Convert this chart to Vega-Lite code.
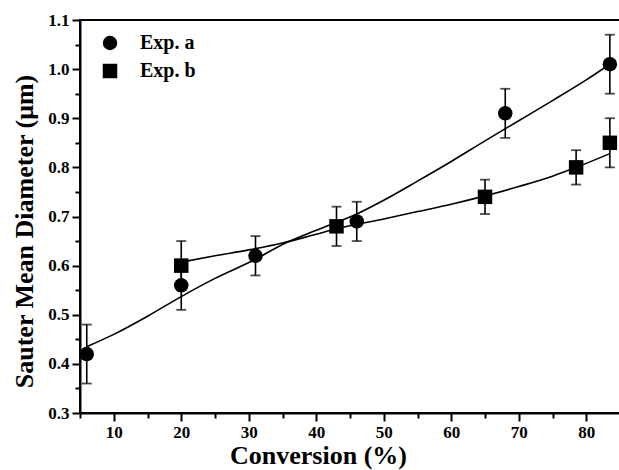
{
  "$schema": "https://vega.github.io/schema/vega-lite/v6.json",
  "autosize": "none",
  "width": 540,
  "height": 393,
  "padding": {"left": 80, "top": 20, "right": 0, "bottom": 57},
  "background": "white",
  "config": {
    "view": {"stroke": "black", "strokeWidth": 2},
    "font": "Liberation Serif",
    "axis": {
      "domainColor": "black", "domainWidth": 2, "tickColor": "black", "tickWidth": 2,
      "labelFont": "Liberation Serif", "labelFontWeight": "bold", "labelFontSize": 17, "labelColor": "black",
      "titleFont": "Liberation Serif", "titleFontWeight": "bold", "titleFontSize": 26, "titleColor": "black",
      "grid": false, "labelOverlap": false
    }
  },
  "datasets": {
    "pts": [
      {"series": "Exp. a", "conv": 6, "d": 0.42, "lo": 0.36, "hi": 0.48},
      {"series": "Exp. a", "conv": 20, "d": 0.56, "lo": 0.51, "hi": 0.61},
      {"series": "Exp. a", "conv": 31, "d": 0.62, "lo": 0.58, "hi": 0.66},
      {"series": "Exp. a", "conv": 46, "d": 0.69, "lo": 0.65, "hi": 0.73},
      {"series": "Exp. a", "conv": 68, "d": 0.91, "lo": 0.86, "hi": 0.96},
      {"series": "Exp. a", "conv": 83.5, "d": 1.01, "lo": 0.95, "hi": 1.07},
      {"series": "Exp. b", "conv": 20, "d": 0.60, "lo": 0.55, "hi": 0.65},
      {"series": "Exp. b", "conv": 43, "d": 0.68, "lo": 0.64, "hi": 0.72},
      {"series": "Exp. b", "conv": 65, "d": 0.74, "lo": 0.705, "hi": 0.775},
      {"series": "Exp. b", "conv": 78.5, "d": 0.80, "lo": 0.765, "hi": 0.835},
      {"series": "Exp. b", "conv": 83.5, "d": 0.85, "lo": 0.80, "hi": 0.90}
    ],
    "fits": [
      {"series": "Exp. a", "conv": 6, "d": 0.435},
      {"series": "Exp. a", "conv": 10, "d": 0.46},
      {"series": "Exp. a", "conv": 15, "d": 0.497},
      {"series": "Exp. a", "conv": 20, "d": 0.537},
      {"series": "Exp. a", "conv": 25, "d": 0.574},
      {"series": "Exp. a", "conv": 31, "d": 0.613},
      {"series": "Exp. a", "conv": 35, "d": 0.643},
      {"series": "Exp. a", "conv": 40, "d": 0.672},
      {"series": "Exp. a", "conv": 46, "d": 0.705},
      {"series": "Exp. a", "conv": 50, "d": 0.733},
      {"series": "Exp. a", "conv": 55, "d": 0.772},
      {"series": "Exp. a", "conv": 60, "d": 0.812},
      {"series": "Exp. a", "conv": 65, "d": 0.854},
      {"series": "Exp. a", "conv": 70, "d": 0.895},
      {"series": "Exp. a", "conv": 75, "d": 0.936},
      {"series": "Exp. a", "conv": 80, "d": 0.978},
      {"series": "Exp. a", "conv": 83.5, "d": 1.01},
      {"series": "Exp. b", "conv": 20, "d": 0.607},
      {"series": "Exp. b", "conv": 25, "d": 0.62},
      {"series": "Exp. b", "conv": 30, "d": 0.632},
      {"series": "Exp. b", "conv": 35, "d": 0.646},
      {"series": "Exp. b", "conv": 40, "d": 0.664},
      {"series": "Exp. b", "conv": 43, "d": 0.675},
      {"series": "Exp. b", "conv": 50, "d": 0.695},
      {"series": "Exp. b", "conv": 55, "d": 0.71},
      {"series": "Exp. b", "conv": 60, "d": 0.725},
      {"series": "Exp. b", "conv": 65, "d": 0.742},
      {"series": "Exp. b", "conv": 70, "d": 0.761},
      {"series": "Exp. b", "conv": 75, "d": 0.782},
      {"series": "Exp. b", "conv": 78.5, "d": 0.80},
      {"series": "Exp. b", "conv": 83.5, "d": 0.828}
    ]
  },
  "resolve": {"axis": {"x": "independent", "y": "independent"}},
  "layer": [
    {
      "data": {"name": "fits"},
      "mark": {"type": "line", "color": "black", "strokeWidth": 1.6, "interpolate": "monotone"},
      "encoding": {
        "x": {"field": "conv", "type": "quantitative",
          "scale": {"domain": [5, 85], "nice": false, "zero": false},
          "axis": {"title": "Conversion (%)", "orient": "bottom", "values": [10,20,30,40,50,60,70,80],
            "format": "d", "tickSize": 8, "labelPadding": 3, "titlePadding": 0, "titleX": 238, "titleY": 50, "titleBaseline": "alphabetic"}},
        "y": {"field": "d", "type": "quantitative",
          "scale": {"domain": [0.3, 1.1], "nice": false, "zero": false},
          "axis": {"title": "Sauter Mean Diameter (μm)", "orient": "left", "values": [0.3,0.4,0.5,0.6,0.7,0.8,0.9,1.0,1.1],
            "format": ".1f", "tickSize": 8, "labelPadding": 3, "titlePadding": 10, "titleY": 211}},
        "detail": {"field": "series"}
      }
    },
    {
      "data": {"name": "fits"},
      "mark": {"type": "point", "opacity": 0},
      "encoding": {
        "x": {"field": "conv", "type": "quantitative",
          "axis": {"title": null, "orient": "bottom", "values": [5,15,25,35,45,55,65,75,85], "labels": false, "tickSize": 5, "domain": false}},
        "y": {"field": "d", "type": "quantitative",
          "axis": {"title": null, "orient": "left", "values": [0.35,0.45,0.55,0.65,0.75,0.85,0.95,1.05], "labels": false, "tickSize": 5, "domain": false}}
      }
    },
    {
      "data": {"name": "pts"},
      "mark": {"type": "rule", "color": "black", "strokeWidth": 1.6},
      "encoding": {
        "x": {"field": "conv", "type": "quantitative", "axis": null},
        "y": {"field": "lo", "type": "quantitative", "axis": null},
        "y2": {"field": "hi"}
      }
    },
    {
      "data": {"name": "pts"},
      "mark": {"type": "tick", "color": "black", "orient": "horizontal", "size": 10, "thickness": 1.8},
      "encoding": {
        "x": {"field": "conv", "type": "quantitative", "axis": null},
        "y": {"field": "lo", "type": "quantitative", "axis": null}
      }
    },
    {
      "data": {"name": "pts"},
      "mark": {"type": "tick", "color": "black", "orient": "horizontal", "size": 10, "thickness": 1.8},
      "encoding": {
        "x": {"field": "conv", "type": "quantitative", "axis": null},
        "y": {"field": "hi", "type": "quantitative", "axis": null}
      }
    },
    {
      "data": {"name": "pts"},
      "mark": {"type": "point", "filled": true, "color": "black", "opacity": 1, "size": 210},
      "encoding": {
        "x": {"field": "conv", "type": "quantitative", "axis": null},
        "y": {"field": "d", "type": "quantitative", "axis": null},
        "shape": {"field": "series", "type": "nominal",
          "scale": {"domain": ["Exp. a", "Exp. b"], "range": ["circle", "square"]},
          "legend": {"title": null, "orient": "none", "legendX": 20, "legendY": 13,
            "labelFont": "Liberation Serif", "labelFontWeight": "bold", "labelFontSize": 20, "labelColor": "black",
            "symbolSize": 210, "symbolFillColor": "black", "symbolStrokeColor": "black", "symbolType": "circle",
            "rowPadding": 6, "labelOffset": 20}}
      }
    }
  ]
}
